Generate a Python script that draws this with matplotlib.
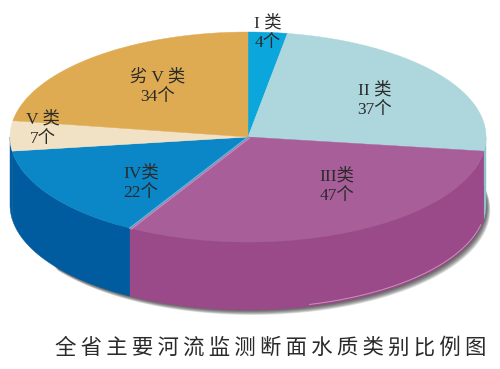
import numpy as np
from matplotlib import pyplot as plt

# 各类断面个数
names = ['I 类', 'II 类', 'III类', 'IV类', 'V 类', '劣 V 类']
counts = [4, 37, 47, 22, 7, 34]
top_colors = ['#0aa6dc', '#aed6dd', '#a85f99', '#0b86c6', '#f2e2c5', '#dfab52']
side_colors = ['#0a8cc0', '#8fc4cf', '#9b4a89', '#005b9f', '#005b9f', '#c08f3e']
title = '全省主要河流监测断面水质类别比例图'

cx, cy = 248, 137
rx, ry = 238, 105
depth = 68

# 标签位置(像素)
label_pos = [(268, 33), (375, 100), (337, 186), (141, 183), (43, 129), (158, 87)]

plt.rcParams['font.family'] = ['Liberation Serif', 'Noto Sans CJK SC', 'DejaVu Sans']

fig = plt.figure(figsize=(5, 3.69), dpi=100)
ax = fig.add_axes([0, 0, 1, 1])
ax.set_xlim(0, 500)
ax.set_ylim(369, 0)
ax.axis('off')


def ell(t, dy=0):
    # t为从正上方顺时针转过的角度
    t = np.radians(t)
    return cx + rx * np.sin(t), cy - ry * np.cos(t) + dy


edges = np.cumsum([0] + counts) / sum(counts) * 360

# 阴影
t = np.linspace(60, 235, 200)
for i in range(7, 0, -1):
    sx, sy = ell(t, depth)
    sx = sx + i * 0.6
    sy = sy + i * 0.7
    ax.fill(np.r_[sx, cx], np.r_[sy, cy], color='#303030', alpha=0.16, lw=0, zorder=1)

# 侧面
for k in range(len(counts)):
    a = max(edges[k], 90)
    b = min(edges[k + 1], 270)
    if a >= b:
        continue
    t = np.linspace(a, b, 150)
    x1, y1 = ell(t)
    x2, y2 = ell(t, depth)
    ax.fill(np.r_[x1, x2[::-1]], np.r_[y1, y2[::-1]], fc=side_colors[k],
            ec=side_colors[k], lw=0.3, zorder=2)

# 顶面
for k in range(len(counts)):
    t = np.linspace(edges[k], edges[k + 1], 150)
    x1, y1 = ell(t)
    ax.fill(np.r_[cx, x1], np.r_[cy, y1], fc=top_colors[k], ec=top_colors[k], lw=0.3, zorder=3)

# III类与IV类之间的亮线, 底边高光
x1, y1 = ell(edges[3])
ax.plot([cx, x1], [cy, y1], color='#62b6dc', lw=1, zorder=4)
ax.plot([cx + 1.5, x1 + 1.5], [cy + 1, y1 + 1], color='#c88fbd', lw=0.8, zorder=4)
t = np.linspace(102, 165, 100)
x2, y2 = ell(t, depth - 2)
ax.plot(x2, y2, color='#c795bd', lw=0.7, zorder=4)

for name, n, (x, y) in zip(names, counts, label_pos):
    ax.text(x, y, f'{name}\n{n}个', ha='center', va='center', fontsize=12.5,
            linespacing=1.3, color='#2a2a2a', zorder=5)

ax.text(55, 348, '\u2009'.join(title), ha='left', va='center', fontsize=15.4,
        color='#2a2a2a', zorder=5)

fig.savefig('out.png', dpi=100)
